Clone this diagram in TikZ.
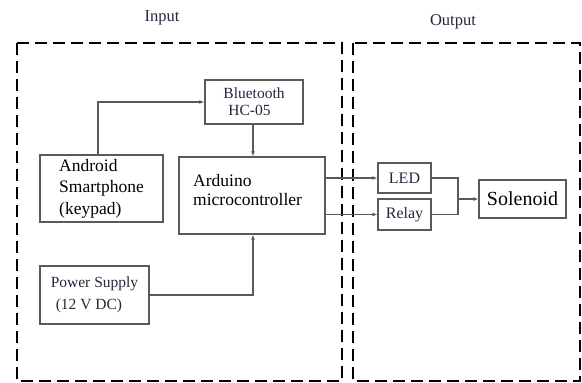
\documentclass[tikz,border=0pt]{standalone}
\usepackage{fontspec}
\setmainfont{Liberation Serif}
\usetikzlibrary{arrows.meta}
\definecolor{txtc}{RGB}{35,40,60}
\definecolor{boxc}{RGB}{90,90,90}
\tikzset{
  blk/.style={draw=boxc, line width=1.2pt, inner sep=0pt, fill=white},
  zone/.style={draw=black, line width=2.9pt, dash pattern=on 12pt off 6pt},
  conn/.style={draw=boxc, line width=1.2pt},
  arr/.style={conn, -{Latex[length=5pt,width=4pt]}},
  lbl/.style={font=\fontsize{17}{21}\selectfont, text=txtc},
}
\begin{document}
\begin{tikzpicture}[x=1pt,y=-1pt]
\useasboundingbox (0,0) rectangle (582,383);
\fill[white] (0,0) rectangle (582,383);
% zones
\draw[zone] (17,43) rectangle (342,381);
\draw[zone] (353,43) rectangle (580,381);
\node[lbl, font=\fontsize{16.5}{19}\selectfont] (inlbl) at (162,18) {Input};
\node[lbl, font=\fontsize{16.5}{19}\selectfont] (outlbl) at (453,22) {Output};
% blocks
\node[blk, minimum width=98pt, minimum height=44pt, align=left, text=txtc,
  font=\fontsize{15.5}{17}\selectfont] (bt) at (254,102) {Bluetooth\\\hspace{5pt}HC-05};
\node[blk, minimum width=123pt, minimum height=67pt, align=left,
  font=\fontsize{17.5}{21.5}\selectfont] (and) at (101.5,188.5) {Android\\Smartphone\\(keypad)};
\node[blk, minimum width=146pt, minimum height=77pt] (ard) at (252,195.5) {};
\node[anchor=west, align=left, inner sep=0pt,
  font=\fontsize{17.5}{19.5}\selectfont] (ardtxt) at (193,190) {Arduino\\microcontroller};
\node[blk, minimum width=109pt, minimum height=58pt, align=left, text=txtc,
  font=\fontsize{15.5}{22}\selectfont] (ps) at (94.5,295) {Power Supply\\\hspace{5pt}(12 V DC)};
\node[blk, minimum width=53pt, minimum height=30pt, text=txtc,
  font=\fontsize{16}{19}\selectfont] (led) at (404.5,178) {LED};
\node[blk, minimum width=53pt, minimum height=31pt, text=txtc,
  font=\fontsize{16}{19}\selectfont] (rel) at (404.5,214.5) {Relay};
\node[blk, minimum width=87pt, minimum height=38pt,
  font=\fontsize{20}{23}\selectfont] (sol) at (522.5,199) {Solenoid};
\coordinate (j) at (458,199);
% connectors
\draw[arr] ([xshift=-3.5pt]and.north) |- (bt.west);
\draw[arr] ([xshift=-1pt]bt.south) -- ([xshift=-1pt]bt.south |- ard.north);
\draw[arr] (ps.east) -| ([xshift=1pt]ard.south);
\draw[arr] (ard.east |- led.west) -- (led.west);
\draw[arr] (ard.east |- rel.west) -- (rel.west);
\draw[conn] (led.east) -| (j);
\draw[conn] (rel.east) -| (j);
\draw[arr] (j) -- (sol.west);
\end{tikzpicture}
\end{document}
